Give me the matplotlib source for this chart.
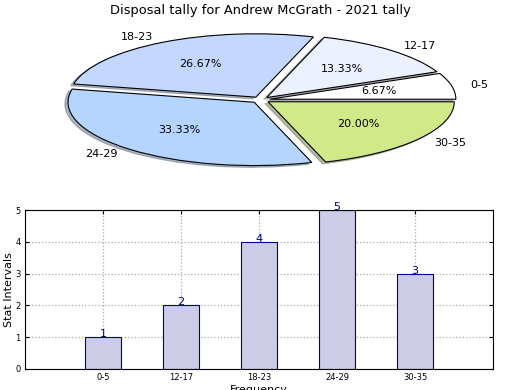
import matplotlib
matplotlib.use("Agg")
import matplotlib.pyplot as plt

categories = ["0-5", "12-17", "18-23", "24-29", "30-35"]
values = [1, 2, 4, 5, 3]
pie_colors = ["#ffffff", "#eaf1ff", "#c4d8ff", "#b3d5ff", "#d0ea8a"]
title = "Disposal tally for Andrew McGrath - 2021 tally"
yticks = [0, 1, 2, 3, 4, 5]

fig = plt.figure(figsize=(5.2, 3.9), dpi=100)
fig.patch.set_facecolor("white")

# Pie
ax1 = fig.add_axes([37 / 520, 0.549, 447 / 520, 152 / 390])
wedges, texts, autotexts = ax1.pie(
    values, labels=categories, colors=pie_colors, explode=[0.05] * len(values),
    autopct="%1.2f%%", startangle=0,
    shadow={"ox": -0.012, "oy": -0.02, "shade": 0.5},
    wedgeprops=dict(edgecolor="black", linewidth=0.8),
    textprops=dict(fontsize=8))
ax1.set_aspect("auto")
ax1.set_xlim(-1.2, 1.2)
ax1.set_ylim(-1.2, 1.2)
ax1.axis("off")
fig.text(0.5, 0.99, title, ha="center", va="top", fontsize=9.4)

# Bars
ax2 = fig.add_axes([25 / 520, 21 / 390, 468 / 520, 159 / 390])
x = list(range(len(categories)))
ax2.bar(x, values, width=0.46, color="#ccccE6", edgecolor="#000080", linewidth=0.8)
for xi, v in zip(x, values):
    ax2.annotate(str(v), (xi, v), xytext=(0, -1.5), textcoords="offset points",
                 ha="center", va="bottom", fontsize=8, color="#000080",
                 annotation_clip=False)
ax2.set_xlim(-1, 5)
ax2.set_ylim(0, 5)
ax2.set_xticks(x)
ax2.set_xticklabels(categories)
ax2.set_yticks(yticks)
ax2.tick_params(axis="both", direction="in", labelsize=6, top=True, right=True, length=3, pad=3)
ax2.grid(True, linestyle=":", color="#aaaaaa", linewidth=0.9)
ax2.set_axisbelow(True)
ax2.set_ylabel("Stat Intervals", fontsize=8, labelpad=1)
ax2.set_xlabel("Frequency", fontsize=8, labelpad=2)

fig.savefig("out.png", dpi=100)
